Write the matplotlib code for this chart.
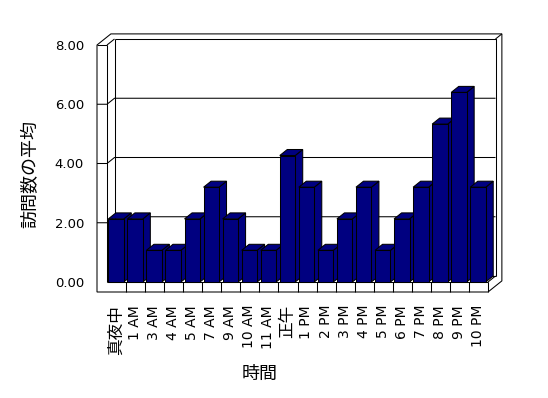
import numpy as np
import matplotlib
matplotlib.use("Agg")
import matplotlib.pyplot as plt
from matplotlib.patches import Polygon

plt.rcParams['font.family'] = ['DejaVu Sans', 'Noto Sans CJK JP']

# ---- data ----
categories = ["真夜中", "1 AM", "3 AM", "4 AM", "5 AM", "7 AM", "9 AM", "10 AM", "11 AM",
              "正午", "1 PM", "2 PM", "3 PM", "4 PM", "5 PM", "6 PM", "7 PM", "8 PM",
              "9 PM", "10 PM"]
values = [2.13, 2.13, 1.07, 1.07, 2.13, 3.20, 2.13, 1.07, 1.07,
          4.27, 3.20, 1.07, 2.13, 3.20, 1.07, 2.13, 3.20, 5.33,
          6.40, 3.20]
yticks = [0, 2, 4, 6, 8]
ytick_labels = [f"{t:.2f}" for t in yticks]
xlabel = "時間"
ylabel = "訪問数の平均"

# ---- figure / axes ----
W, H = 548, 398
fig = plt.figure(figsize=(W / 100, H / 100), dpi=100)
ax_l, ax_r, ax_t, ax_b = 107, 488, 45, 282
ax = fig.add_axes([ax_l / W, 1 - ax_b / H, (ax_r - ax_l) / W, (ax_b - ax_t) / H])
n = len(categories)
ymax = yticks[-1]
ax.set_xlim(0, n)
ax.set_ylim(0, ymax)
ax.patch.set_visible(False)
for s in ax.spines.values():
    s.set_visible(False)

cw = (ax_r - ax_l) / n          # px per category
vh = (ax_b - ax_t) / ymax       # px per value unit
DX, DY = 7.5 / cw, 6.0 / vh     # depth offset (data units)
TX, TY = 10 / cw, 10 / vh       # wall / floor thickness
BD = 1.85                       # back wall outer depth factor

navy = "#000080"
lw = 0.75
kw = dict(clip_on=False)

# outer contour of walls + floor
outer = [(-TX, ymax), (-TX + BD * DX, ymax + BD * DY), (n + BD * DX, ymax + BD * DY),
         (n + BD * DX, -TY + BD * DY), (n, -TY), (-TX, -TY)]
ax.add_patch(Polygon(outer, closed=True, facecolor="white", edgecolor="black", lw=lw, zorder=1, **kw))

def line(xs, ys, z=2):
    ax.plot(xs, ys, color="black", lw=lw, zorder=z, solid_capstyle="butt", **kw)

# left wall front face inner edge and top
line([0, 0], [0, ymax])
line([-TX, 0], [ymax, ymax])
line([0, DX], [ymax, ymax + DY])
# back wall inner face
line([DX, n + DX, n + DX], [ymax + DY, ymax + DY, DY])
line([DX, DX], [DY, ymax + DY])
line([DX, n + DX], [DY, DY])
line([n + DX, n + BD * DX], [ymax + DY, ymax + BD * DY])
# floor
line([0, n], [0, 0])
line([n, n + DX], [0, DY])
line([n, n], [0, -TY])
for k in range(1, n):
    line([k, k], [0, -TY])
# gridlines with ticks on left wall
for t in yticks[1:-1]:
    line([-TX, 0, DX, n + DX], [t, t, t + DY, t + DY], z=3)

# bars
x0 = np.arange(n) + 0.07
bw = 0.81
bars = ax.bar(x0, values, width=bw, align="edge", color=navy, edgecolor="black",
              linewidth=lw, **kw)
for i, (p, v) in enumerate(zip(bars.patches, values)):
    p.set_zorder(11 + 2 * i)
    a, b = x0[i], x0[i] + bw
    top = [(a, v), (b, v), (b + DX, v + DY), (a + DX, v + DY)]
    side = [(b, 0), (b + DX, DY), (b + DX, v + DY), (b, v)]
    for poly in (side, top):
        ax.add_patch(Polygon(poly, closed=True, facecolor=navy, edgecolor="black",
                             lw=lw, zorder=10 + 2 * i, **kw))

# ticks
ax.set_yticks(yticks)
ax.set_yticklabels(ytick_labels)
ax.tick_params(axis="y", length=0, pad=16.5, labelsize=9.5)
ax.set_xticks(np.arange(n) + 0.47)
ax.set_xticklabels(categories, rotation=90)
ax.tick_params(axis="x", length=0, pad=16.5, labelsize=10)
for lab in ax.get_xticklabels():
    if not any(c.isascii() for c in lab.get_text()):
        lab.set_fontsize(12)

fig.text(260 / W, 1 - 374 / H, xlabel, ha="center", va="center", fontsize=13)
fig.text(30 / W, 1 - 174 / H, ylabel, ha="center", va="center", rotation=90, fontsize=13)

fig.savefig("out.png", dpi=100, facecolor="white")
